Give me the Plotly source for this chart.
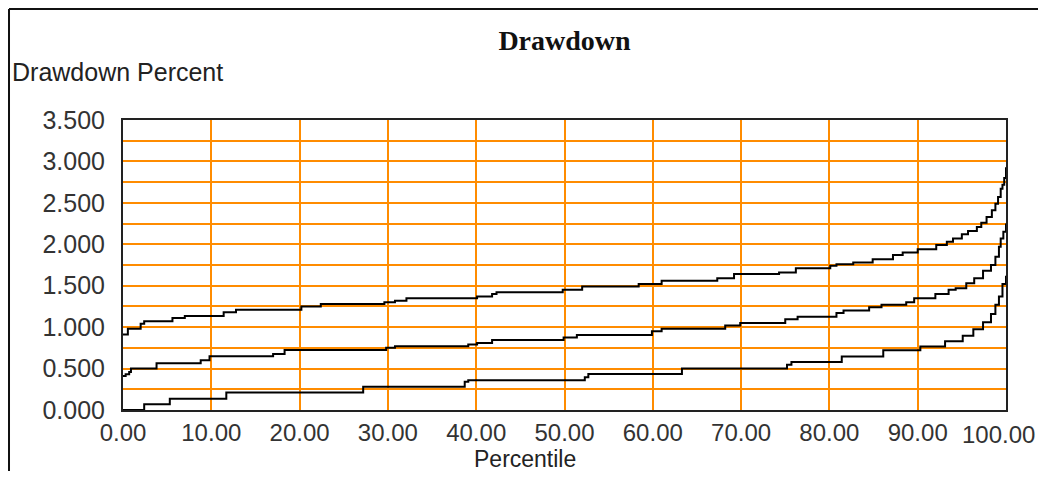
import plotly.graph_objects as go

# percentile curves (step lines)
pct_alto = [0, 0.55, 2.0, 2.4, 5.6, 7.0, 11.4, 12.8, 20.2, 22.4, 29.6, 30.8, 32.1,
            40.1, 41.8, 42.3, 49.8, 52.0, 58.4, 61.0, 67.3, 69.2, 74.3, 76.2, 80.1,
            80.8, 82.7, 84.9, 87.2, 88.3, 90.0, 92.1, 93.3, 94.0, 95.0, 95.7, 96.7,
            97.2, 97.8, 98.4, 98.8, 99.1, 99.4, 99.6, 99.8, 100]
dd_alto = [0.91, 0.98, 1.04, 1.07, 1.11, 1.135, 1.18, 1.21, 1.25, 1.28, 1.30, 1.32, 1.35,
           1.37, 1.40, 1.42, 1.45, 1.49, 1.52, 1.56, 1.59, 1.64, 1.66, 1.71, 1.74,
           1.76, 1.78, 1.82, 1.87, 1.90, 1.94, 1.99, 2.03, 2.07, 2.12, 2.16, 2.21,
           2.26, 2.33, 2.41, 2.49, 2.57, 2.67, 2.72, 2.80, 2.93]

pct_medio = [0, 0.3, 0.7, 0.9, 3.8, 8.8, 9.8, 17.0, 18.3, 29.8, 30.8, 39.1, 40.1, 41.8,
             49.9, 51.4, 59.9, 61.0, 68.2, 69.9, 75.0, 76.4, 80.8, 81.6, 84.5, 85.9,
             88.7, 89.6, 92.0, 93.5, 94.3, 95.5, 96.4, 97.4, 98.3, 98.8, 99.2, 99.4,
             99.7, 100]
dd_medio = [0.41, 0.43, 0.46, 0.50, 0.565, 0.60, 0.65, 0.675, 0.725, 0.75, 0.77, 0.79,
            0.81, 0.845, 0.875, 0.905, 0.95, 0.98, 1.02, 1.05, 1.095, 1.125, 1.17, 1.20,
            1.24, 1.27, 1.30, 1.35, 1.40, 1.45, 1.47, 1.53, 1.59, 1.68, 1.75, 1.85, 1.97,
            2.07, 2.15, 2.25]

pct_bajo = [0, 2.4, 5.3, 11.7, 27.2, 38.7, 39.1, 52.3, 52.7, 63.3, 75.2, 75.7, 81.4,
            86.1, 90.3, 93.1, 95.1, 96.3, 97.4, 98.3, 98.8, 99.2, 99.6, 100]
dd_bajo = [0, 0.07, 0.135, 0.21, 0.28, 0.34, 0.36, 0.395, 0.435, 0.50, 0.545, 0.58, 0.645,
           0.72, 0.765, 0.83, 0.895, 0.975, 1.06, 1.16, 1.27, 1.37, 1.52, 1.62]

NARANJA = '#FF8C00'
FUENTE = 'Liberation Sans, Arial, sans-serif'

fig = go.Figure()
for xs, ys in [(pct_alto, dd_alto), (pct_medio, dd_medio), (pct_bajo, dd_bajo)]:
    fig.add_trace(go.Scatter(
        x=xs, y=ys, mode='lines', line_shape='hv',
        line=dict(color='black', width=2),
        hoverinfo='skip', showlegend=False,
    ))

# la página tiene 8px de margen, la figura ocupa el resto
fig.update_layout(
    width=1030, height=463,
    margin=dict(l=115, r=32, t=112, b=61),
    paper_bgcolor='white', plot_bgcolor='white',
    title=dict(text='<b>Drawdown</b>', xref='paper', x=0.5, xanchor='center',
               y=0.931, yanchor='middle',
               font=dict(family='Liberation Serif, Times New Roman, serif', size=28, color='#111')),
    font=dict(family=FUENTE, size=25, color='#333'),
)
fig.update_xaxes(
    range=[0, 100], dtick=10, tickformat='.2f',
    tickfont=dict(size=24),
    showgrid=True, gridcolor=NARANJA, gridwidth=2,
    showline=True, mirror=True, linecolor='#222', linewidth=2,
    ticks='', zeroline=False, fixedrange=True,
)
fig.update_yaxes(
    range=[0, 3.5], dtick=0.5, tickformat='.3f', ticklabelstandoff=11,
    showgrid=True, gridcolor=NARANJA, gridwidth=2,
    minor=dict(dtick=0.25, showgrid=True, gridcolor=NARANJA, gridwidth=2),
    showline=True, mirror=True, linecolor='#222', linewidth=2,
    ticks='', zeroline=False, fixedrange=True,
)

# la última etiqueta no cabe en el div: se pone pegada al borde derecho
fig.add_annotation(text='100.00', xref='paper', yref='paper',
                   x=1.0351, y=-0.0828, xanchor='right', yanchor='middle',
                   showarrow=False, font=dict(size=24, color='#333'))

fig.add_annotation(text='Drawdown Percent', xref='paper', yref='paper',
                   x=-0.128, y=1.1655, xanchor='left', yanchor='middle',
                   showarrow=False, font=dict(size=25, color='#222'))
fig.add_annotation(text='Percentile', xref='paper', yref='paper',
                   x=0.455, y=-0.17, xanchor='center', yanchor='middle',
                   showarrow=False, font=dict(size=23, color='#222'))

# marco exterior (solo arriba e izquierda)
fig.add_shape(type='line', xref='paper', yref='paper', x0=-0.1291, x1=1.04, y0=1.383, y1=1.383,
              line=dict(color='#111', width=2))
fig.add_shape(type='line', xref='paper', yref='paper', x0=-0.1291, x1=-0.1291, y0=1.383, y1=-0.22,
              line=dict(color='#111', width=2))

fig.write_html('out.html')
